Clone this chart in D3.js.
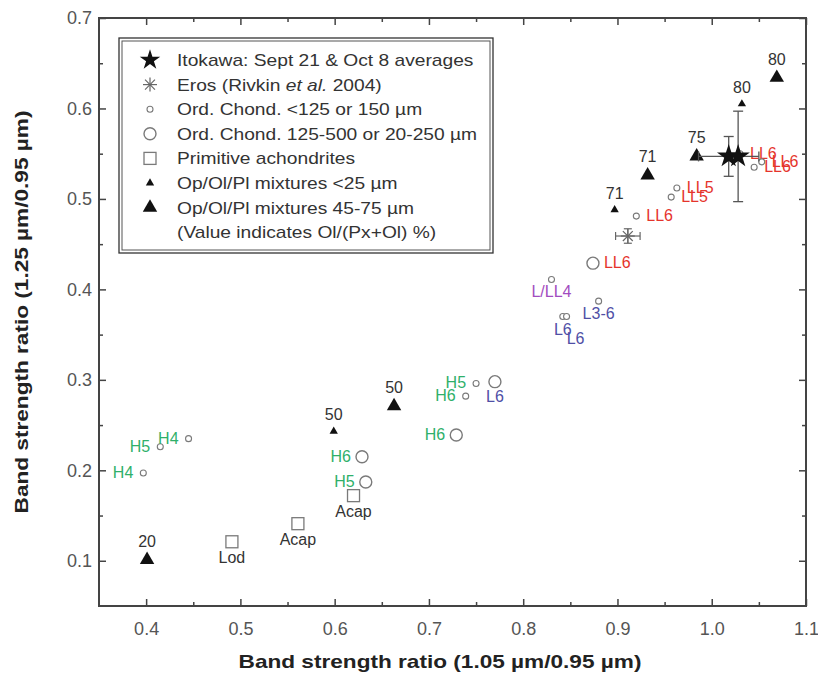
<!DOCTYPE html>
<html><head><meta charset="utf-8">
<script src="https://cdn.jsdelivr.net/npm/d3@7"></script>
<style>
html,body{margin:0;padding:0;background:#fff;}
svg{display:block;font-family:"Liberation Sans",Arial,Helvetica,sans-serif;}
</style></head>
<body>
<svg id="chart" width="818" height="673"></svg>
<script>
// ---------- data ----------
const xTicks = [0.4,0.5,0.6,0.7,0.8,0.9,1.0,1.1];
const yTicks = [0.1,0.2,0.3,0.4,0.5,0.6,0.7];
const xMinorTicks = [0.45,0.55,0.65,0.75,0.85,0.95,1.05];
const yMinorTicks = [0.15,0.25,0.35,0.45,0.55,0.65];

// Ord. Chond. <125 or 150 um (small circles)
const ocSmallX = [0.397,0.415,0.445,0.739,0.750,0.830,0.842,0.846,0.880,0.920,0.957,0.963,1.030,1.045,1.053];
const ocSmallY = [0.197,0.226,0.235,0.282,0.296,0.411,0.370,0.370,0.387,0.481,0.502,0.512,0.550,0.535,0.541];
const ocSmallLabel = ["H4","H5","H4","H6","H5","L/LL4","L6","L6","L3-6","LL6","LL5","LL5","LL6","LL6","LL6"];
const ocSmallPlace = ["l","l","l","l","l","b","b","br","b","r","r","r","r","r","r"];

// Ord. Chond. 125-500 or 20-250 um (large circles)
const ocLargeX = [0.629,0.633,0.729,0.770,0.874];
const ocLargeY = [0.215,0.187,0.239,0.298,0.429];
const ocLargeLabel = ["H6","H5","H6","L6","LL6"];
const ocLargePlace = ["l","l","l","b","r"];

// Primitive achondrites (squares)
const achX = [0.491,0.561,0.620];
const achY = [0.121,0.141,0.172];
const achLabel = ["Lod","Acap","Acap"];

// Op/Ol/Pl mixtures <25 um (small triangles)
const mixSmallX = [0.599,0.897,1.032];
const mixSmallY = [0.243,0.488,0.605];
const mixSmallLabel = ["50","71","80"];

// Op/Ol/Pl mixtures 45-75 um (large triangles)
const mixLargeX = [0.401,0.663,0.932,0.984,1.069];
const mixLargeY = [0.101,0.271,0.526,0.547,0.634];
const mixLargeLabel = ["20","50","71","75","80"];

// Itokawa (Sept 21 & Oct 8 averages)
const itoX = [1.018,1.028];
const itoY = [0.547,0.547];
const itoXerr = [0.032,0];
const itoYerr = [0.022,0.050];

// Eros (Rivkin et al. 2004)
const erosX = [0.911];
const erosY = [0.459];
const erosXerr = [0.013];
const erosYerr = [0.008];

const legendLabels = [
  "Itokawa: Sept 21 & Oct 8 averages",
  "Eros (Rivkin et al. 2004)",
  "Ord. Chond. <125 or 150 \u00b5m",
  "Ord. Chond. 125-500 or 20-250 \u00b5m",
  "Primitive achondrites",
  "Op/Ol/Pl mixtures <25 \u00b5m",
  "Op/Ol/Pl mixtures 45-75 \u00b5m",
  "(Value indicates Ol/(Px+Ol) %)"
];

// ---------- styling ----------
const meteoriteColor = t => {
  if (t.startsWith("LL")) return "#e5342c";
  if (t.startsWith("L/")) return "#a24cc0";
  if (t.startsWith("L")) return "#4f4fa6";
  if (t.startsWith("H")) return "#2fb06a";
  return "#333";
};
const markerGray = "#7a7a7a";
const axisColor = "#444";

const svg = d3.select("#chart");
const L = 99, R = 806, T = 18, B = 606;
const x = d3.scaleLinear().domain([0.35,1.1]).range([L,R]);
const y = d3.scaleLinear().domain([0.05,0.7]).range([B,T]);

// ---------- axes ----------
function styleAxis(g){
  g.selectAll(".domain").attr("stroke","none");
  g.selectAll(".tick line").attr("stroke",axisColor).attr("stroke-width",1.5);
  g.selectAll("text").attr("fill","#555").attr("font-size","18px")
    .attr("font-family","Liberation Sans, Arial, sans-serif");
}
svg.append("g").attr("transform",`translate(0,${B})`)
  .call(d3.axisBottom(x).tickValues(xTicks).tickFormat(d3.format(".1f")).tickSize(-7).tickPadding(16))
  .call(styleAxis);
svg.append("g").attr("transform",`translate(0,${B})`)
  .call(d3.axisBottom(x).tickValues(xMinorTicks).tickFormat("").tickSize(-4)).call(styleAxis);
svg.append("g").attr("transform",`translate(0,${T})`)
  .call(d3.axisTop(x).tickValues(xTicks).tickFormat("").tickSize(-7)).call(styleAxis);
svg.append("g").attr("transform",`translate(0,${T})`)
  .call(d3.axisTop(x).tickValues(xMinorTicks).tickFormat("").tickSize(-4)).call(styleAxis);

svg.append("g").attr("transform",`translate(${L},0)`)
  .call(d3.axisLeft(y).tickValues(yTicks).tickFormat(d3.format(".1f")).tickSize(-7).tickPadding(7))
  .call(styleAxis);
svg.append("g").attr("transform",`translate(${L},0)`)
  .call(d3.axisLeft(y).tickValues(yMinorTicks).tickFormat("").tickSize(-4)).call(styleAxis);
svg.append("g").attr("transform",`translate(${R},0)`)
  .call(d3.axisRight(y).tickValues(yTicks).tickFormat("").tickSize(-7)).call(styleAxis);
svg.append("g").attr("transform",`translate(${R},0)`)
  .call(d3.axisRight(y).tickValues(yMinorTicks).tickFormat("").tickSize(-4)).call(styleAxis);

svg.append("rect").attr("x",L).attr("y",T).attr("width",R-L).attr("height",B-T)
  .attr("fill","none").attr("stroke",axisColor).attr("stroke-width",2);

// titles
svg.append("g").attr("transform",`translate(440,668) scale(1.19,1)`)
  .append("text").attr("text-anchor","middle")
  .attr("font-weight","bold").attr("font-size","19px").attr("fill","#222")
  .text("Band strength ratio (1.05 \u00b5m/0.95 \u00b5m)");
svg.append("g").attr("transform",`translate(28,${(T+B)/2}) rotate(-90) scale(1.19,1)`)
  .append("text").attr("text-anchor","middle")
  .attr("font-weight","bold").attr("font-size","19px").attr("fill","#222")
  .text("Band strength ratio (1.25 \u00b5m/0.95 \u00b5m)");

// ---------- label helper ----------
const lblFont = "16px";
function placeLabel(g, px, py, text, place, gap, color){
  let dx=0, dy=0, anchor="middle";
  if (place==="l"){ dx=-gap; dy=5; anchor="end"; }
  else if (place==="r"){ dx=gap; dy=5; anchor="start"; }
  else if (place==="b"){ dy=gap+12; }
  else if (place==="br"){ dx=9; dy=gap+21; }
  else if (place==="t"){ dy=-gap; }
  g.append("text").attr("x",px+dx).attr("y",py+dy).attr("text-anchor",anchor)
    .attr("font-size",lblFont).attr("fill",color).text(text);
}

const plot = svg.append("g");

// squares
achX.forEach((v,i)=>{
  const px=x(v), py=y(achY[i]);
  plot.append("rect").attr("x",px-6).attr("y",py-6).attr("width",12).attr("height",12)
    .attr("fill","#fff").attr("stroke",markerGray).attr("stroke-width",1.3);
  placeLabel(plot,px,py,achLabel[i],"b",9,"#333");
});

// large circles
ocLargeX.forEach((v,i)=>{
  const px=x(v), py=y(ocLargeY[i]);
  plot.append("circle").attr("cx",px).attr("cy",py).attr("r",6)
    .attr("fill","#fff").attr("stroke",markerGray).attr("stroke-width",1.4);
  placeLabel(plot,px,py,ocLargeLabel[i],ocLargePlace[i],ocLargePlace[i]==="b"?8:11,meteoriteColor(ocLargeLabel[i]));
});

// small circles
ocSmallX.forEach((v,i)=>{
  const px=x(v), py=y(ocSmallY[i]);
  plot.append("circle").attr("cx",px).attr("cy",py).attr("r",3)
    .attr("fill","#fff").attr("stroke",markerGray).attr("stroke-width",1.1);
  placeLabel(plot,px,py,ocSmallLabel[i],ocSmallPlace[i],ocSmallPlace[i].startsWith("b")?6:10,meteoriteColor(ocSmallLabel[i]));
});

// triangles
const triSmall = d3.symbol().type(d3.symbolTriangle).size(30);
const triLarge = d3.symbol().type(d3.symbolTriangle).size(90);
mixSmallX.forEach((v,i)=>{
  const px=x(v), py=y(mixSmallY[i]);
  plot.append("path").attr("d",triSmall()).attr("transform",`translate(${px},${py})`).attr("fill","#111");
  placeLabel(plot,px,py,mixSmallLabel[i],"t",11,"#333");
});
mixLargeX.forEach((v,i)=>{
  const px=x(v), py=y(mixLargeY[i]);
  plot.append("path").attr("d",triLarge()).attr("transform",`translate(${px},${py})`).attr("fill","#111");
  placeLabel(plot,px,py,mixLargeLabel[i],"t",13,"#333");
});

// error bars
function errBar(g, cx, cy, xe, ye, cap, color, w){
  if (xe>0){
    const x0=x(cx-xe), x1=x(cx+xe), py=y(cy);
    g.append("line").attr("x1",x0).attr("x2",x1).attr("y1",py).attr("y2",py).attr("stroke",color).attr("stroke-width",w);
    [x0,x1].forEach(xx=>g.append("line").attr("x1",xx).attr("x2",xx).attr("y1",py-cap).attr("y2",py+cap).attr("stroke",color).attr("stroke-width",w));
  }
  if (ye>0){
    const y0=y(cy-ye), y1=y(cy+ye), px=x(cx);
    g.append("line").attr("x1",px).attr("x2",px).attr("y1",y0).attr("y2",y1).attr("stroke",color).attr("stroke-width",w);
    [y0,y1].forEach(yy=>g.append("line").attr("x1",px-cap).attr("x2",px+cap).attr("y1",yy).attr("y2",yy).attr("stroke",color).attr("stroke-width",w));
  }
}

// Eros
function asterisk(g, px, py, r, color){
  for (let k=0;k<4;k++){
    const a=k*Math.PI/4;
    g.append("line").attr("x1",px-r*Math.cos(a)).attr("y1",py-r*Math.sin(a))
      .attr("x2",px+r*Math.cos(a)).attr("y2",py+r*Math.sin(a))
      .attr("stroke",color).attr("stroke-width",1.2);
  }
}
erosX.forEach((v,i)=>{
  errBar(plot,v,erosY[i],erosXerr[i],erosYerr[i],4,"#666",1.2);
  asterisk(plot,x(v),y(erosY[i]),7,"#666");
});

// Itokawa
itoX.forEach((v,i)=>errBar(plot,v,itoY[i],itoXerr[i],itoYerr[i],5,"#555",1.3));
const star = d3.symbol().type(d3.symbolStar).size(170);
itoX.forEach((v,i)=>{
  plot.append("path").attr("d",star()).attr("transform",`translate(${x(v)},${y(itoY[i])})`).attr("fill","#111");
});

// ---------- legend ----------
const lg = svg.append("g");
lg.append("rect").attr("x",119).attr("y",38).attr("width",374).attr("height",215)
  .attr("fill","#fff").attr("stroke","#333").attr("stroke-width",1.3);
lg.append("rect").attr("x",122).attr("y",41).attr("width",368).attr("height",209)
  .attr("fill","none").attr("stroke","#555").attr("stroke-width",1);
const lgX = 150, lgT = 177, lgY0 = 60, lgStep = 24.6;
legendLabels.forEach((t,i)=>{
  const cy = lgY0 + i*lgStep;
  const tx = lg.append("g").attr("transform",`translate(${lgT},${cy+6}) scale(1.2,1)`)
    .append("text").attr("font-size","16px").attr("fill","#333");
  if (i===1){
    tx.append("tspan").text("Eros (Rivkin ");
    tx.append("tspan").attr("font-style","italic").text("et al.");
    tx.append("tspan").text(" 2004)");
  } else tx.text(t);
});
lg.append("path").attr("d",d3.symbol().type(d3.symbolStar).size(130)()).attr("transform",`translate(${lgX},${lgY0})`).attr("fill","#111");
asterisk(lg,lgX,lgY0+lgStep,7,"#666");
lg.append("circle").attr("cx",lgX).attr("cy",lgY0+2*lgStep).attr("r",3).attr("fill","#fff").attr("stroke",markerGray).attr("stroke-width",1.1);
lg.append("circle").attr("cx",lgX).attr("cy",lgY0+3*lgStep).attr("r",6).attr("fill","#fff").attr("stroke",markerGray).attr("stroke-width",1.4);
lg.append("rect").attr("x",lgX-6).attr("y",lgY0+4*lgStep-6).attr("width",12).attr("height",12).attr("fill","#fff").attr("stroke",markerGray).attr("stroke-width",1.3);
lg.append("path").attr("d",triSmall()).attr("transform",`translate(${lgX},${lgY0+5*lgStep})`).attr("fill","#111");
lg.append("path").attr("d",triLarge()).attr("transform",`translate(${lgX},${lgY0+6*lgStep})`).attr("fill","#111");
</script>
</body></html>
